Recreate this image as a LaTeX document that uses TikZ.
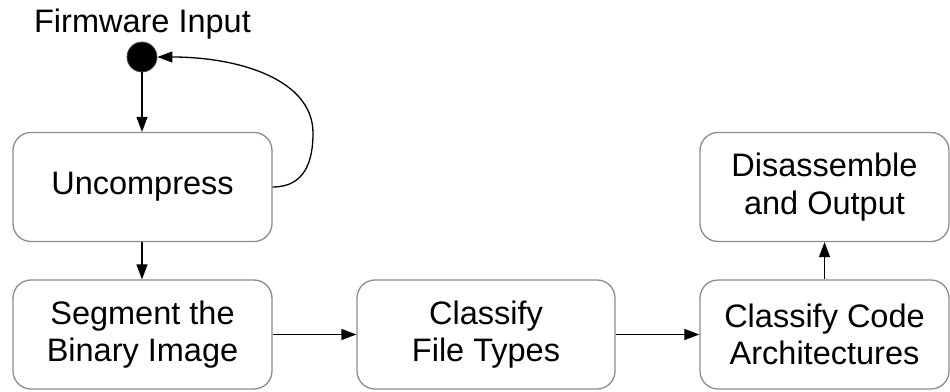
\documentclass[tikz,border=0pt]{standalone}
\usepackage{fontspec}
\setmainfont{Liberation Sans}
\usetikzlibrary{arrows.meta}
\begin{document}
\begin{tikzpicture}[x=1pt,y=-1pt,
  box/.style={draw=black!45,line width=1.3pt,rounded corners=18pt,fill=white,
    minimum width=#1,minimum height=109pt,inner sep=0pt,align=center,
    font=\fontsize{32.5}{37.5}\selectfont},
  box/.default=259pt,
  conn/.style={line width=1.3pt,-{Triangle[length=15pt,width=11pt]}},
  lbl/.style={font=\fontsize{32.5}{37.5}\selectfont,inner sep=0pt}]
\useasboundingbox (0,0) rectangle (950,391);
\node[lbl] (fi) at (142.5,24) {Firmware Input};
\node[circle,fill=black,draw=black!70,line width=0.8pt,minimum size=30pt,inner sep=0pt] (dot) at (142,57) {};
\node[box] (unc) at (142.5,187) {Uncompress};
\node[box] (seg) at (142.5,334.5) {Segment the\\Binary Image};
\node[box=258pt] (cft) at (486,334.5) {Classify\\File Types};
\node[box=249pt] (cca) at (824.5,334.5) {Classify Code\\Architectures};
\node[box=249pt] (dis) at (824.5,187) {Disassemble\\and Output};
\draw[conn] (dot) -- (unc.north -| dot);
\draw[conn] (unc.east) .. controls +(33,0) and (313,160) .. (313,133)
  .. controls (313,80) and (240,57) .. (dot.east);
\draw[conn] (unc.south -| dot) -- (seg.north -| dot);
\draw[conn] (seg.east) -- (cft.west);
\draw[conn] (cft.east) -- (cca.west);
\draw[conn] (cca.north) -- (dis.south);
\end{tikzpicture}
\end{document}
